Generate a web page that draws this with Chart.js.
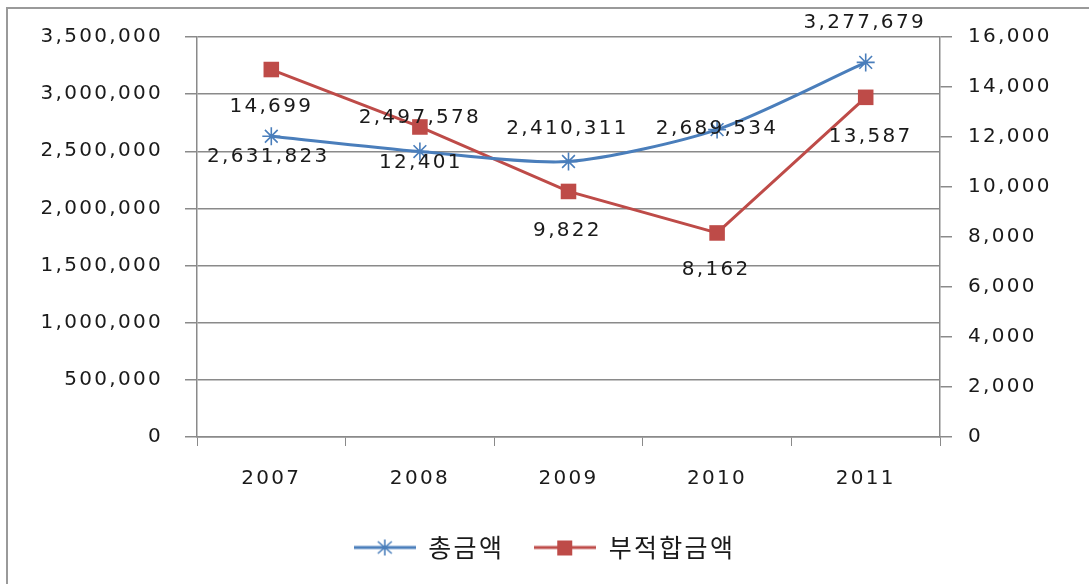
<!DOCTYPE html>
<html lang="ko">
<head>
    <meta charset="UTF-8">
    <title>총금액 / 부적합금액</title>
    <script src="https://cdn.jsdelivr.net/npm/chart.js"></script>
    <style>
        body { margin: 0; padding: 0; background: #fff; }
        #wrap { position: relative; width: 1089px; height: 584px; }
    </style>
</head>
<body>
    <div id="wrap"><canvas id="myChart"></canvas></div>

    <script>
        // datos
        var years = ['2007', '2008', '2009', '2010', '2011'];
        var totalAmount = [2631823, 2497578, 2410311, 2689534, 3277679];
        var badAmount = [14699, 12401, 9822, 8162, 13587];
        var leftMax = 3500000, leftStep = 500000;
        var rightMax = 16000, rightStep = 2000;

        var BLUE = '#4A7EBB';
        var RED = '#BE4B48';
        var GRID = '#8a8a8a';
        var FONT = "'DejaVu Sans', Verdana, sans-serif";
        var SPACING = '2.3px';

        // legend swatches: line with the marker in the middle
        function swatch(color, kind) {
            var c = document.createElement('canvas');
            c.width = 62; c.height = 20;
            var g = c.getContext('2d');
            g.strokeStyle = color; g.lineWidth = 3;
            g.beginPath(); g.moveTo(0, 10); g.lineTo(62, 10); g.stroke();
            if (kind === 'rect') {
                g.fillStyle = color;
                g.fillRect(23, 3, 15, 15);
            } else {
                g.lineWidth = 1.6;
                g.beginPath();
                g.moveTo(31, 2); g.lineTo(31, 18);
                g.moveTo(24, 4); g.lineTo(38, 16);
                g.moveTo(38, 4); g.lineTo(24, 16);
                g.stroke();
            }
            return c;
        }

        var framePlugin = {
            id: 'frame',
            beforeUpdate: function (chart) { chart.ctx.letterSpacing = SPACING; },
            beforeDraw: function (chart) {
                var ctx = chart.ctx;
                ctx.letterSpacing = SPACING;
                ctx.save();
                ctx.strokeStyle = '#9a9a9a';
                ctx.lineWidth = 2;
                ctx.strokeRect(7, 8, 1200, 700);
                ctx.restore();
            }
        };

        // etiquetas de valores
        var labelOffsets = [
            { dx: [-3, 0, -1, 0, -1], dy: [21, -34, -33, -1, -40] },
            { dx: [0, 1, -1, -1, 5], dy: [37, 36, 39, 37, 39] }
        ];
        var valueLabels = {
            id: 'valueLabels',
            afterDatasetsDraw: function (chart) {
                var ctx = chart.ctx;
                ctx.save();
                ctx.letterSpacing = SPACING;
                ctx.font = '20px ' + FONT;
                ctx.fillStyle = '#1a1a1a';
                ctx.textAlign = 'center';
                ctx.textBaseline = 'middle';
                chart.data.datasets.forEach(function (ds, i) {
                    chart.getDatasetMeta(i).data.forEach(function (pt, j) {
                        var off = labelOffsets[i];
                        ctx.fillText(ds.data[j].toLocaleString('en-US'), pt.x + off.dx[j], pt.y + off.dy[j]);
                    });
                });
                ctx.restore();
            }
        };

        var ctx = document.getElementById('myChart').getContext('2d');
        var myChart = new Chart(ctx, {
            type: 'line',
            data: {
                labels: years,
                datasets: [{
                    label: '총금액',
                    data: totalAmount,
                    borderColor: BLUE,
                    backgroundColor: BLUE,
                    borderWidth: 3,
                    pointStyle: 'star',
                    pointRadius: 9,
                    pointBorderWidth: 1.6,
                    pointBorderColor: BLUE,
                    tension: 0.25,
                    yAxisID: 'left'
                }, {
                    label: '부적합금액',
                    data: badAmount,
                    borderColor: RED,
                    backgroundColor: RED,
                    borderWidth: 3,
                    pointStyle: 'rect',
                    pointRadius: 11,
                    pointBorderWidth: 0,
                    pointBackgroundColor: RED,
                    tension: 0,
                    yAxisID: 'right'
                }]
            },
            options: {
                responsive: true,
                maintainAspectRatio: false,
                animation: false,
                layout: { padding: { top: 37, bottom: 14, left: 0, right: 0 } },
                plugins: {
                    tooltip: { enabled: false },
                    legend: {
                        position: 'bottom',
                        labels: {
                            usePointStyle: true,
                            pointStyleWidth: 62,
                            padding: 30,
                            color: '#1a1a1a',
                            font: { family: "'Noto Sans CJK KR', sans-serif", size: 25 },
                            generateLabels: function (chart) {
                                return chart.data.datasets.map(function (ds, i) {
                                    return {
                                        text: ds.label,
                                        datasetIndex: i,
                                        pointStyle: swatch(ds.borderColor, ds.pointStyle),
                                        fontColor: '#1a1a1a',
                                        lineWidth: 0
                                    };
                                });
                            }
                        }
                    }
                },
                scales: {
                    x: {
                        offset: true,
                        grid: { drawOnChartArea: false, color: GRID, tickLength: 9, offset: true },
                        border: { color: GRID, width: 1.5 },
                        ticks: { color: '#1a1a1a', padding: 21, font: { family: FONT, size: 20 } },
                        afterFit: function (s) { s.height = 68; }
                    },
                    left: {
                        position: 'left',
                        min: 0,
                        max: leftMax,
                        grid: { color: GRID, lineWidth: 1.5, tickLength: 12 },
                        border: { color: GRID, width: 1.5 },
                        ticks: {
                            stepSize: leftStep,
                            color: '#1a1a1a',
                            padding: 22,
                            font: { family: FONT, size: 20 },
                            callback: function (v) { return v.toLocaleString('en-US'); }
                        },
                        afterFit: function (s) { s.width = 197; }
                    },
                    right: {
                        position: 'right',
                        min: 0,
                        max: rightMax,
                        grid: { drawOnChartArea: false, color: GRID, lineWidth: 1.5, tickLength: 12 },
                        border: { color: GRID, width: 1.5 },
                        ticks: {
                            stepSize: rightStep,
                            color: '#1a1a1a',
                            padding: 16,
                            font: { family: FONT, size: 20 },
                            callback: function (v) { return v.toLocaleString('en-US'); }
                        },
                        afterFit: function (s) { s.width = 149; }
                    }
                }
            },
            plugins: [framePlugin, valueLabels]
        });
    </script>
</body>
</html>
